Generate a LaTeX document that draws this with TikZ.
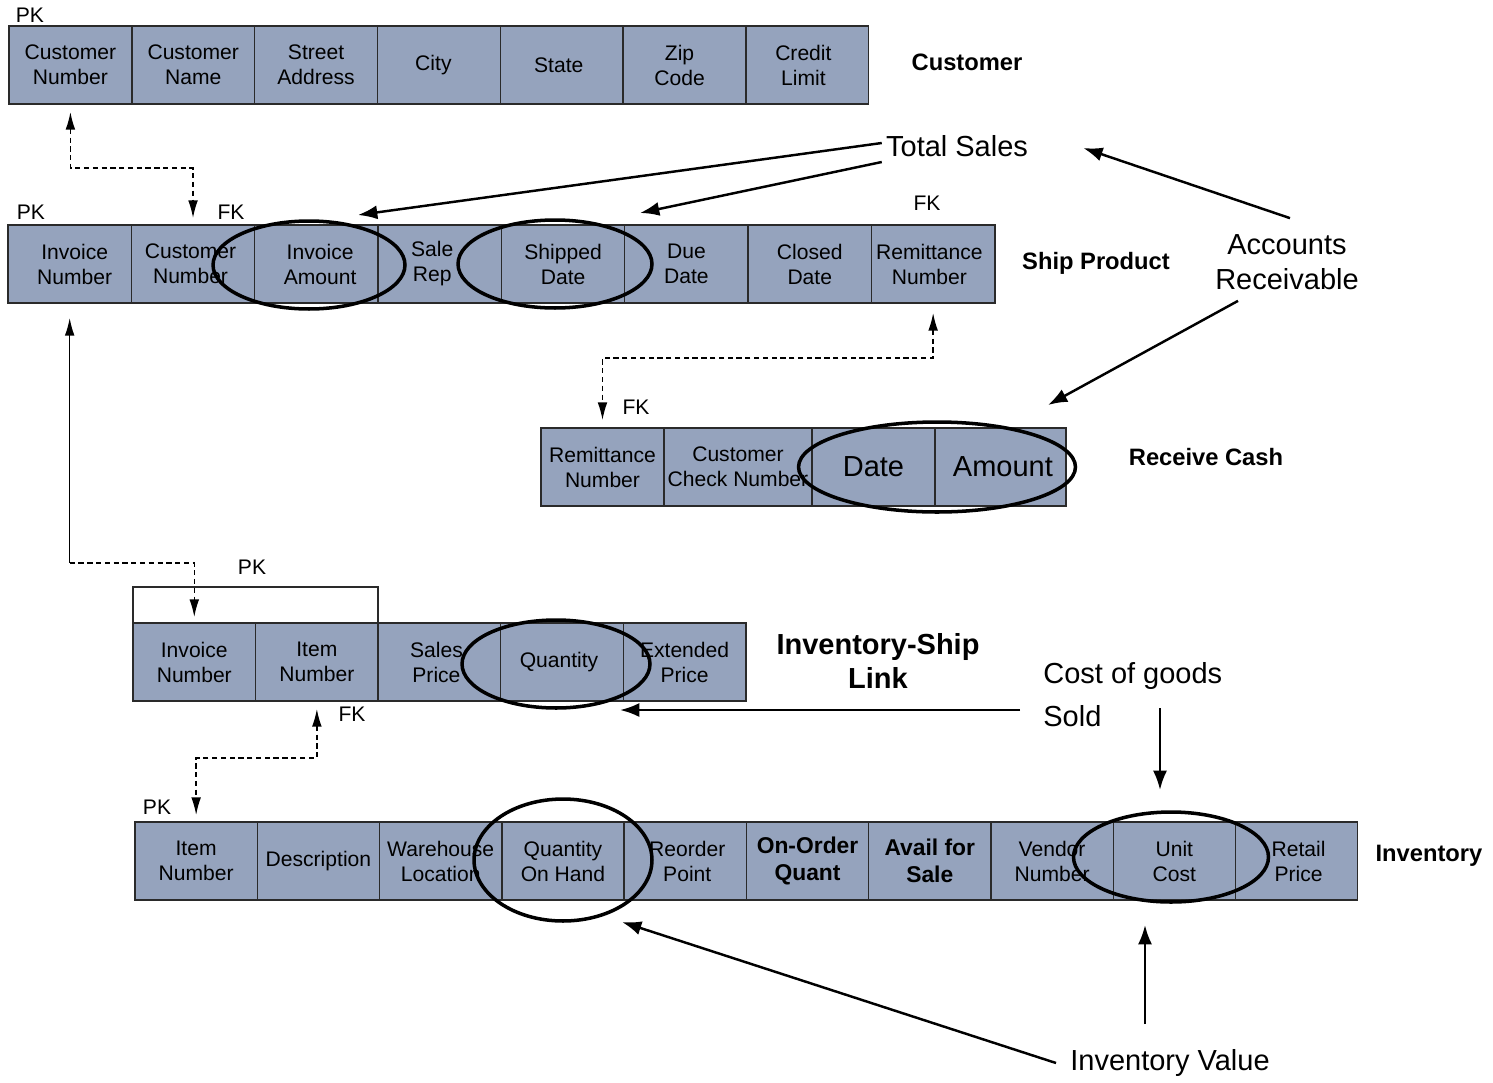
\documentclass[tikz,border=0pt]{standalone}
\usepackage{fontspec}
\setmainfont{Liberation Sans}
\usetikzlibrary{arrows.meta,shapes.geometric}
\definecolor{cellfill}{HTML}{95A3BD}
\definecolor{cellline}{HTML}{2A2A2A}
\newcommand{\cellfont}{\fontsize{12}{14.2}\selectfont}
\newcommand{\boldcellfont}{\fontsize{13}{15.3}\selectfont\bfseries}
\newcommand{\titlefont}{\fontsize{13.5}{16}\selectfont\bfseries}
\newcommand{\bigfont}{\fontsize{16.5}{19.8}\selectfont}
\newcommand{\bigboldfont}{\fontsize{16.5}{19.8}\selectfont\bfseries}
\newcommand{\notefont}{\fontsize{16.5}{24.4}\selectfont}
\begin{document}
\begin{tikzpicture}[x=0.02cm,y=-0.02cm,
  cell/.style={draw=cellline, fill=cellfill, line width=0.8pt, inner sep=0pt, outer sep=0pt, align=center, minimum height=1.56cm, font=\cellfont},
  cellb/.style={cell, font=\boldcellfont},
  cellbig/.style={cell, font=\bigfont},
  custcell/.style={cell, minimum width=2.457cm},
  shipcell/.style={cell, minimum width=2.4675cm},
  islcell/.style={cell, minimum width=2.452cm},
  invcell/.style={cell, minimum width=2.446cm},
  oval/.style={ellipse, draw=black, line width=2pt, inner sep=0pt},
  keylabel/.style={font=\cellfont, inner sep=0pt},
  tabletitle/.style={font=\titlefont, inner sep=0pt, align=center},
  bigtitle/.style={font=\bigboldfont, inner sep=0pt, align=center},
  notelabel/.style={font=\bigfont, inner sep=0pt, align=center},
  fkline/.style={line width=0.8pt, dash pattern=on 3pt off 2pt},
  fktip/.style={-{Latex[length=10pt,width=5.5pt]}},
  fktips/.style={{Latex[length=10pt,width=5.5pt]}-{Latex[length=10pt,width=5.5pt]}},
  notearrow/.style={line width=1.4pt, -{Latex[length=11pt,width=8pt]}}]
\useasboundingbox (0,0) rectangle (1493,1082);

% ---------- Customer ----------
\node[custcell, anchor=north west] (cu1) at (9,26) {Customer\\Number};
\node[custcell, anchor=west] (cu2) at (cu1.east) {Customer\\Name};
\node[custcell, anchor=west] (cu3) at (cu2.east) {Street\\Address};
\node[custcell, anchor=west] (cu4) at (cu3.east) {City\hspace*{0.22cm}};
\node[custcell, anchor=west] (cu5) at (cu4.east) {State\hspace*{0.12cm}};
\node[custcell, anchor=west] (cu6) at (cu5.east) {Zip\hspace*{0.2cm}\\Code\hspace*{0.2cm}};
\node[custcell, anchor=west] (cu7) at (cu6.east) {Credit\hspace*{0.16cm}\\Limit\hspace*{0.16cm}};
\node[tabletitle] (tcu) at (967,62) {Customer};
\node[keylabel] (pkcu) at (30,15) {PK};

% ---------- Ship Product ----------
\node[shipcell, anchor=north west] (sp1) at (8,225) {\hspace*{0.2cm}Invoice\\\hspace*{0.2cm}Number};
\node[shipcell, anchor=west] (sp2) at (sp1.east) {Customer\hspace*{0.1cm}\\Number\hspace*{0.1cm}};
\node[shipcell, anchor=west] (sp3) at (sp2.east) {\hspace*{0.15cm}Invoice\\\hspace*{0.15cm}Amount};
\node[shipcell, anchor=west] (sp4) at (sp3.east) {Sale\hspace*{0.3cm}\\Rep\hspace*{0.3cm}};
\node[shipcell, anchor=west] (sp5) at (sp4.east) {Shipped\\Date};
\node[shipcell, anchor=west] (sp6) at (sp5.east) {Due\\Date};
\node[shipcell, anchor=west] (sp7) at (sp6.east) {Closed\\Date};
\node[shipcell, anchor=west] (sp8) at (sp7.east) {Remittance\hspace*{0.15cm}\\Number\hspace*{0.15cm}};
\node[tabletitle] (tsp) at (1096,263) {Ship Product};
\node[keylabel] (pksp) at (31,212) {PK};
\node[keylabel] (fksp) at (231,212) {FK};
\node[keylabel] (fksp2) at (927,203) {FK};

% ---------- Receive Cash ----------
\node[cell, minimum width=2.46cm, anchor=north west] (rc1) at (541,428) {Remittance\\Number};
\node[cell, minimum width=2.96cm, anchor=west] (rc2) at (rc1.east) {Customer\\Check Number};
\node[cellbig, minimum width=2.46cm, anchor=west] (rc3) at (rc2.east) {Date};
\node[cellbig, minimum width=2.62cm, anchor=west] (rc4) at (rc3.east) {\hspace*{0.1cm}Amount};
\node[tabletitle] (trc) at (1206,457) {Receive Cash};
\node[keylabel] (fkrc) at (636,407) {FK};

% ---------- Inventory-Ship Link ----------
\node[islcell, anchor=north west] (isl1) at (133,623) {Invoice\\Number};
\node[islcell, anchor=west] (isl2) at (isl1.east) {Item\\Number};
\node[islcell, anchor=west] (isl3) at (isl2.east) {Sales\hspace*{0.12cm}\\Price\hspace*{0.12cm}};
\node[islcell, anchor=west] (isl4) at (isl3.east) {Quantity\hspace*{0.12cm}};
\node[islcell, anchor=west] (isl5) at (isl4.east) {Extended\\Price};
\node[bigtitle] (tisl) at (878,661) {Inventory-Ship\\Link};
\node[keylabel] (pkisl) at (252,567) {PK};
\node[keylabel] (fkisl) at (352,714) {FK};
\draw[line width=0.8pt, cellline] (isl1.north west) -- ++(0,-36) -| (isl2.north east);

% ---------- Inventory ----------
\node[invcell, anchor=north west] (inv1) at (135,822) {Item\\Number};
\node[invcell, anchor=west] (inv2) at (inv1.east) {Description};
\node[invcell, anchor=west] (inv3) at (inv2.east) {Warehouse\\Location};
\node[invcell, anchor=west] (inv4) at (inv3.east) {Quantity\\On Hand};
\node[invcell, anchor=west] (inv5) at (inv4.east) {\hspace*{0.08cm}Reorder\\\hspace*{0.08cm}Point};
\node[invcell, font=\boldcellfont, anchor=west] (inv6) at (inv5.east) {On-Order\\Quant};
\node[invcell, font=\boldcellfont, anchor=west] (inv7) at (inv6.east) {Avail for\\Sale};
\node[invcell, anchor=west] (inv8) at (inv7.east) {Vendor\\Number};
\node[invcell, anchor=west] (inv9) at (inv8.east) {Unit\\Cost};
\node[invcell, anchor=west] (inv10) at (inv9.east) {\hspace*{0.08cm}Retail\\\hspace*{0.08cm}Price};
\node[tabletitle] (tinv) at (1429,856) {Inventory};
\node[keylabel] (pkinv) at (157,807) {PK};

% ---------- Ellipses ----------
\node[oval, minimum width=3.84cm, minimum height=1.76cm] (eIA) at (309,265) {};
\node[oval, minimum width=3.88cm, minimum height=1.76cm] (eSD) at (555,264) {};
\node[oval, minimum width=5.54cm, minimum height=1.80cm] (eRC) at (937,467) {};
\node[oval, minimum width=3.76cm, minimum height=1.76cm] (eQ) at (556,664) {};
\node[oval, minimum width=3.56cm, minimum height=2.44cm] (eQOH) at (563,860) {};
\node[oval, minimum width=3.90cm, minimum height=1.80cm] (eUC) at (1171,857) {};

% ---------- Key connectors ----------
\draw[fkline, fktips, shorten <=0.16cm, shorten >=0.14cm] (cu1.south) -- ++(0,64) -| (sp2.north);
\draw[fkline, fktips, shorten <=0.2cm, shorten >=0.16cm] (sp8.south) -- ++(0,55) -| (rc1.north);
\draw[line width=0.8pt, {Latex[length=10pt,width=5.5pt]}-, shorten <=0.3cm] (sp1.south) -- ++(0,260) coordinate (j1);
\draw[fkline, fktip, shorten >=0.12cm] (j1) -| (isl1.north);
\draw[fkline, fktips, shorten <=0.16cm, shorten >=0.14cm] (isl2.south) -- ++(0,57) -| (inv1.north);

% ---------- Annotations ----------
\node[notelabel] (ts) at (957,146) {Total Sales};
\node[notelabel] (ar) at (1287,262) {Accounts\\Receivable};
\node[font=\notefont, inner sep=0pt, align=left, anchor=west] (cg) at (1043,695) {Cost of goods\\Sold};
\node[notelabel] (iv) at (1170,1063) {Inventory Value};

\coordinate (tIA) at (358,215);
\coordinate (tSD) at (640,213);
\coordinate (tRC) at (1048,405);
\coordinate (tQ) at (620,710);
\coordinate (tUC) at (1160,790);
\coordinate (tQOH) at (622,922);
\coordinate (tUC2) at (1145,925);

\draw[notearrow] ([shift={(-4,-3)}]ts.west) -- (tIA);
\draw[notearrow] ([shift={(-4,16)}]ts.west) -- (tSD);
\draw[notearrow] ([shift={(3,-16)}]ar.north) -- ([shift={(55,2)}]ts.east);
\draw[notearrow] ([shift={(-49,11)}]ar.south) -- (tRC);
\draw[notearrow] ([shift={(-23,15)}]cg.west) -- (tQ);
\draw[notearrow] ([shift={(117,13)}]cg.west) -- (tUC);
\draw[notearrow] ([xshift=-0.28cm]iv.west) -- (tQOH);
\draw[notearrow] ([shift={(-25,-25)}]iv.north) -- (tUC2);
\end{tikzpicture}
\end{document}
